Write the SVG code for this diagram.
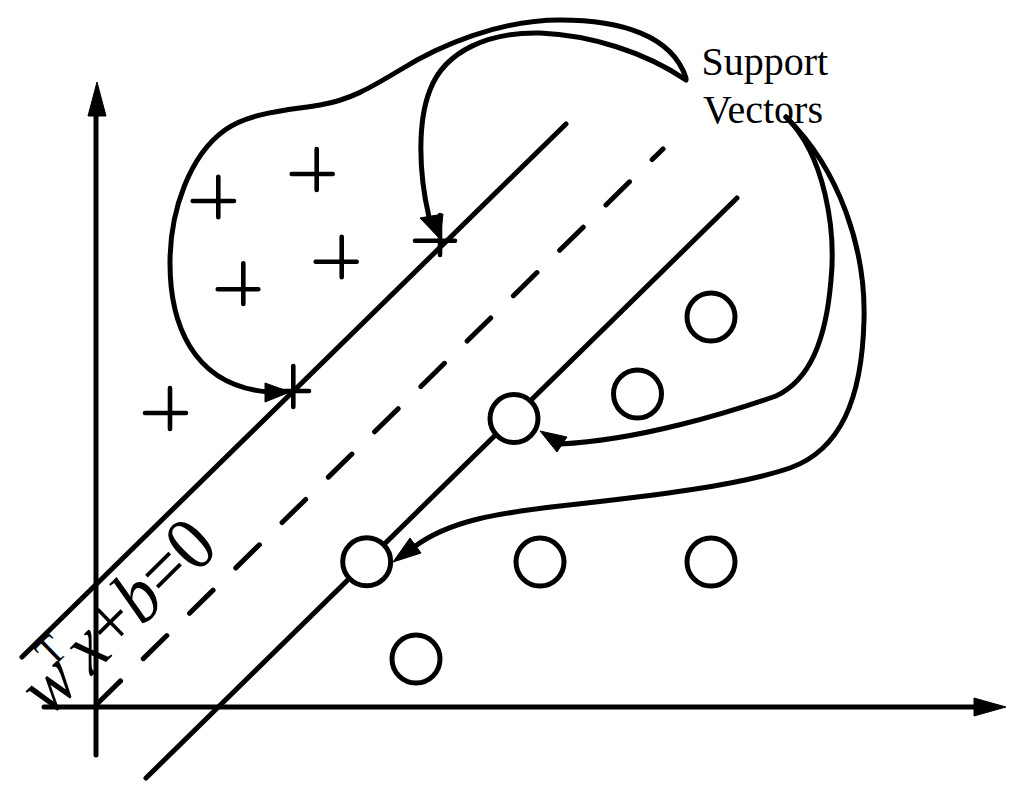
<svg xmlns="http://www.w3.org/2000/svg" width="1024" height="796" viewBox="0 0 1024 796">
  <style>
    .ln { fill: none; stroke: #000; stroke-width: 5; stroke-linecap: round; }
    .dash { stroke-dasharray: 33 31.8; }
    .plus { fill: none; stroke: #000; stroke-width: 4.6; stroke-linecap: round; }
    .circ { fill: #fff; stroke: #000; stroke-width: 5; }
    .ah { fill: #000; stroke: #000; stroke-width: 1; stroke-linejoin: miter; }
    .lbl { font-family: "Liberation Serif", "Times New Roman", serif; fill: #000; }
  </style>
  <rect width="1024" height="796" fill="#fff"/>

  <g id="axes">
    <line class="ln" x1="96" y1="110" x2="96" y2="755" stroke-width="5.5" stroke-linecap="butt"/>
    <polygon class="ah" points="97,82 88,116 106,116"/>
    <line class="ln" x1="44" y1="707" x2="980" y2="707" stroke-width="5.5" stroke-linecap="butt"/>
    <polygon class="ah" points="1006,707 974,698 974,716"/>
  </g>

  <g id="hyperplanes">
    <line class="ln" x1="22" y1="657" x2="566" y2="124" stroke-width="5.5"/>
    <line class="ln dash" x1="97" y1="704" x2="663" y2="149" stroke-width="5.3"/>
    <line class="ln" x1="146" y1="778" x2="737" y2="198" stroke-width="4.6"/>
  </g>

  <g id="label-equation">
    <text class="lbl" transform="translate(49,718) rotate(-44.4) scale(1,1.1)" font-size="70"><tspan font-style="italic">w</tspan><tspan font-size="38" dx="-10" dy="-30">T</tspan><tspan font-style="italic" dy="30">x</tspan>+<tspan font-style="italic">b</tspan>=0</text>
  </g>

  <g id="plus-1"><path class="plus" d="M192.7,201 H234 M218.3,176.7 V217.3"/></g>
  <g id="plus-2"><path class="plus" d="M291.7,174 H332.7 M316.7,149 V190"/></g>
  <g id="plus-3"><path class="plus" d="M217.7,289.3 H258.3 M243.3,263.3 V304"/></g>
  <g id="plus-4"><path class="plus" d="M315.7,261.7 H356.7 M341.7,236.7 V277.3"/></g>
  <g id="plus-5"><path class="plus" d="M145,413 H186 M170,388 V429"/></g>
  <g id="plus-sv-1"><path class="plus" d="M415,240.7 H455 M440,215 V255"/></g>
  <g id="plus-sv-2"><path class="plus" d="M268,391 H309 M293.3,366 V407"/></g>

  <g id="circle-1"><circle class="circ" cx="711" cy="317" r="24"/></g>
  <g id="circle-2"><circle class="circ" cx="637.5" cy="394" r="24"/></g>
  <g id="circle-sv-1"><circle class="circ" cx="514" cy="418.5" r="24"/></g>
  <g id="circle-sv-2"><circle class="circ" cx="366.7" cy="561.7" r="24"/></g>
  <g id="circle-3"><circle class="circ" cx="540" cy="562" r="24"/></g>
  <g id="circle-4"><circle class="circ" cx="711" cy="562" r="24"/></g>
  <g id="circle-5"><circle class="circ" cx="416" cy="659" r="24"/></g>

  <g id="label-support-vectors">
    <text class="lbl" x="701.5" y="75" font-size="40">Support</text>
    <text class="lbl" x="703" y="123" font-size="40">Vectors</text>
  </g>

  <g id="connectors">
    <path class="ln" d="M686,78 C672,35 620,20 560,20 C500,20 440,45 400,70 C370,88 350,100 320,105 C290,110 250,112 225,130 C190,155 170,210 170,263 C170,320 190,385 268,392"/>
    <polygon class="ah" points="290,392 265,383 265,402"/>
    <path class="ln" d="M686,80 C645,52 590,35 540,33 C490,32 445,50 430,90 C418,120 418,170 429,217"/>
    <polygon class="ah" points="440,239 420,218 443,214"/>
    <path class="ln" d="M786,117 C825,155 836,230 831,280 C826,340 810,380 776,396 C730,412 640,440 560,444"/>
    <polygon class="ah" points="540,431 567,437 557,452"/>
    <path class="ln" d="M786,117 C840,170 866,250 864,320 C862,400 840,450 790,468 C740,485 660,495 560,506 C500,513 450,520 414,547"/>
    <polygon class="ah" points="393,562 410,538 421,553"/>
  </g>
</svg>
